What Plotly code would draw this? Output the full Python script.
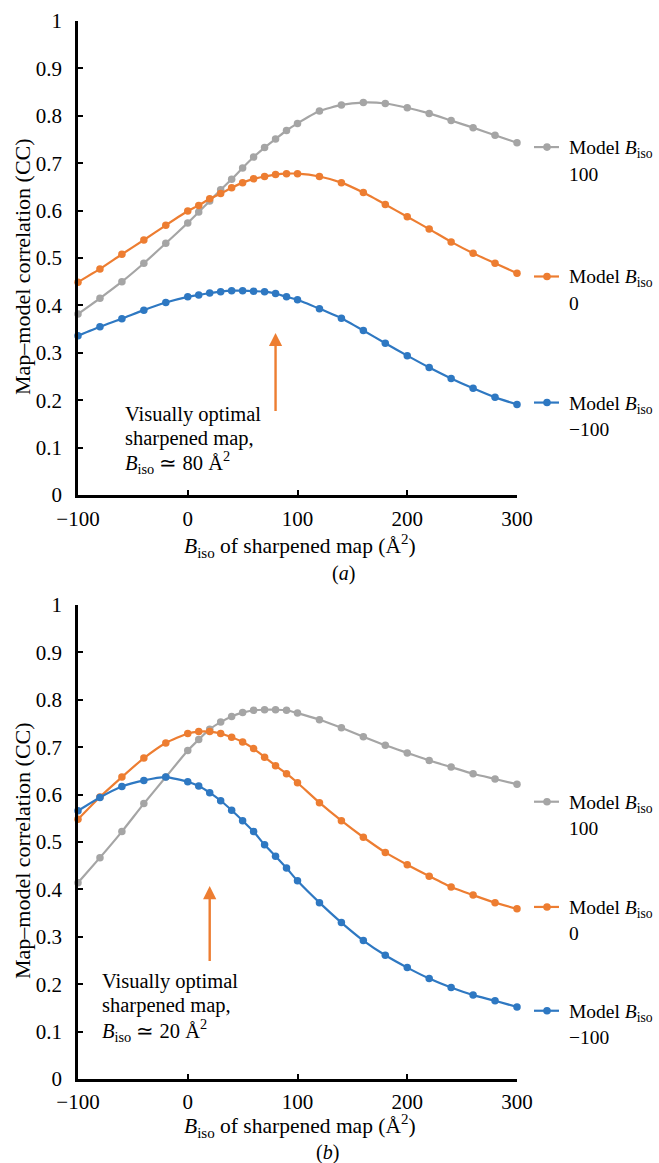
import plotly.graph_objects as go

# ---------------- data ----------------
b_sharp = [-100, -80, -60, -40, -20, 0, 10, 20, 30, 40, 50, 60, 70, 80, 90, 100,
           120, 140, 160, 180, 200, 220, 240, 260, 280, 300]

# panel (a)
cc_a_model100 = [0.382, 0.415, 0.450, 0.489, 0.531, 0.574, 0.597, 0.620, 0.644, 0.666, 0.690,
                 0.713, 0.733, 0.751, 0.769, 0.784, 0.810, 0.823, 0.828, 0.826, 0.817, 0.805,
                 0.790, 0.775, 0.759, 0.743]
cc_a_model0 = [0.449, 0.477, 0.508, 0.538, 0.569, 0.599, 0.611, 0.625, 0.636, 0.648, 0.659,
               0.667, 0.672, 0.676, 0.678, 0.678, 0.672, 0.659, 0.638, 0.613, 0.587, 0.561,
               0.534, 0.510, 0.489, 0.468]
cc_a_modelm100 = [0.336, 0.355, 0.372, 0.390, 0.406, 0.418, 0.422, 0.426, 0.429, 0.431, 0.431,
                  0.430, 0.429, 0.425, 0.418, 0.412, 0.393, 0.373, 0.347, 0.320, 0.294, 0.269,
                  0.246, 0.225, 0.206, 0.191]

# panel (b)
cc_b_model100 = [0.414, 0.467, 0.522, 0.581, 0.637, 0.693, 0.716, 0.738, 0.753, 0.765, 0.773,
                 0.778, 0.779, 0.779, 0.778, 0.772, 0.758, 0.741, 0.722, 0.704, 0.688, 0.672,
                 0.658, 0.644, 0.633, 0.622]
cc_b_model0 = [0.548, 0.595, 0.637, 0.677, 0.709, 0.729, 0.733, 0.733, 0.729, 0.721, 0.711,
               0.697, 0.679, 0.661, 0.644, 0.625, 0.583, 0.545, 0.510, 0.478, 0.452, 0.428,
               0.405, 0.388, 0.372, 0.359]
cc_b_modelm100 = [0.566, 0.594, 0.617, 0.630, 0.637, 0.627, 0.618, 0.604, 0.587, 0.567, 0.545,
                  0.522, 0.494, 0.470, 0.445, 0.418, 0.372, 0.330, 0.292, 0.261, 0.235, 0.212,
                  0.193, 0.177, 0.165, 0.152]

series_names = ["100", "0", "\u2212100"]
x_ticks = [-100, 0, 100, 200, 300]
y_ticks = [0, 0.1, 0.2, 0.3, 0.4, 0.5, 0.6, 0.7, 0.8, 0.9, 1]
optimal_b = [80, 20]          # visually optimal sharpening B for (a), (b)
panel_labels = ["(<i>a</i>)", "(<i>b</i>)"]

# ---------------- style ----------------
W, H = 659, 1163
FONT = "Liberation Serif"
colors = ["#A5A5A5", "#ED7D31", "#2E78C2"]
ORANGE = "#ED7D31"

L_PX, R_PX = 78, 517
dom_top = [(H - 495) / H, (H - 21) / H]
dom_bot = [(H - 1079) / H, (H - 605) / H]


def px(xp):
    """pixel column -> paper x (paper spans the plot area)"""
    return (xp - L_PX) / (R_PX - L_PX)


def py(yp):
    return (H - yp) / H


fig = go.Figure()

panels = [
    dict(xa="x", ya="y", data=[cc_a_model100, cc_a_model0, cc_a_modelm100],
         key_y=[0.734, 0.461, 0.195], note_x=-59, note_rows=[0.169, 0.119, 0.069],
         arrow=(0.174, 0.342), title_y=546, lab_y=573, lab_x=343, ytitle_y=267),
    dict(xa="x2", ya="y2", data=[cc_b_model100, cc_b_model0, cc_b_modelm100],
         key_y=[0.585, 0.363, 0.144], note_x=-80, note_rows=[0.205, 0.155, 0.103],
         arrow=(0.246, 0.407), title_y=1126, lab_y=1152, lab_x=327, ytitle_y=851),
]

annotations = []
shapes = []

for i, p in enumerate(panels):
    for s, ys in enumerate(p["data"]):
        fig.add_trace(go.Scatter(
            x=b_sharp, y=ys, xaxis=p["xa"], yaxis=p["ya"], mode="lines+markers",
            line=dict(color=colors[s], width=2.2, shape="spline", smoothing=0.5),
            marker=dict(color=colors[s], size=7.5),
            showlegend=False, cliponaxis=False))
        # legend key: line + marker
        ky = p["key_y"][s]
        shapes.append(dict(type="line", xref="paper", yref=p["ya"],
                           x0=px(534), x1=px(559), y0=ky, y1=ky,
                           line=dict(color=colors[s], width=2.2)))
        shapes.append(dict(type="circle", xref="paper", yref=p["ya"],
                           xsizemode="pixel", ysizemode="pixel",
                           xanchor=px(547), yanchor=ky,
                           x0=-3.8, x1=3.8, y0=-3.8, y1=3.8,
                           fillcolor=colors[s], line=dict(color=colors[s], width=0)))
        annotations.append(dict(
            xref="paper", yref=p["ya"], x=px(567), y=ky, xanchor="left", yanchor="middle",
            yshift=-2, showarrow=False, text="Model <i>B</i><sub>iso</sub>",
            font=dict(family=FONT, size=19.5, color="black")))
        annotations.append(dict(
            xref="paper", yref=p["ya"], x=px(567), y=ky, xanchor="left", yanchor="middle",
            yshift=-27, showarrow=False, text=series_names[s],
            font=dict(family=FONT, size=19.5, color="black")))

    # arrow
    tail, head = p["arrow"]
    annotations.append(dict(
        xref=p["xa"], yref=p["ya"], axref=p["xa"], ayref=p["ya"],
        x=optimal_b[i], y=head, ax=optimal_b[i], ay=tail, text="",
        showarrow=True, arrowhead=2, arrowsize=1.1, arrowwidth=2.4, arrowcolor=ORANGE))
    # note text (three rows)
    rows = ["Visually optimal", "sharpened map,",
            "<i>B</i><sub>iso</sub> \u2243 %d \u00c5<sup>2</sup>" % optimal_b[i]]
    for r, t in enumerate(rows):
        annotations.append(dict(
            xref=p["xa"], yref=p["ya"], x=p["note_x"], y=p["note_rows"][r], xanchor="left",
            yanchor="middle", showarrow=False, text=t,
            font=dict(family=FONT, size=20.5, color="black")))
    # x-axis title
    annotations.append(dict(
        xref="paper", yref="paper", x=px(300), y=py(p["title_y"]), xanchor="center",
        yanchor="middle", showarrow=False,
        text="<i>B</i><sub>iso</sub> of sharpened map (\u00c5<sup>2</sup>)",
        font=dict(family=FONT, size=21.5, color="black")))
    # panel label
    annotations.append(dict(
        xref="paper", yref="paper", x=px(p["lab_x"]), y=py(p["lab_y"]), xanchor="center",
        yanchor="middle", showarrow=False, text=panel_labels[i],
        font=dict(family=FONT, size=20, color="black")))
    # y-axis title
    annotations.append(dict(
        xref="paper", yref="paper", x=px(22), y=py(p["ytitle_y"]), xanchor="center",
        yanchor="middle", showarrow=False, textangle=-90,
        text="Map\u2013model correlation (CC)",
        font=dict(family=FONT, size=22, color="black")))

axis_common = dict(showgrid=False, zeroline=False, showline=True, linecolor="black",
                   linewidth=2.5, ticks="inside", ticklen=5, tickwidth=2, tickcolor="black",
                   automargin=False,
                   tickfont=dict(family=FONT, size=21, color="black"))

fig.update_layout(
    width=W, height=H, paper_bgcolor="white", plot_bgcolor="white",
    margin=dict(l=L_PX, r=W - R_PX, t=0, b=0, pad=0, autoexpand=False),
    xaxis=dict(domain=[0, 1], range=[-100, 300], tickvals=x_ticks, anchor="y",
               ticklabelstandoff=3, **axis_common),
    yaxis=dict(domain=dom_top, range=[0, 1], tickvals=y_ticks, anchor="x",
               ticklabelstandoff=9, **axis_common),
    xaxis2=dict(domain=[0, 1], range=[-100, 300], tickvals=x_ticks, anchor="y2",
                ticklabelstandoff=2, **axis_common),
    yaxis2=dict(domain=dom_bot, range=[0, 1], tickvals=y_ticks, anchor="x2",
                ticklabelstandoff=9, **axis_common),
    annotations=annotations, shapes=shapes,
    font=dict(family=FONT, color="black"),
)

fig.write_html("out.html", config={"displayModeBar": False},
               post_script="document.body.style.margin='0';document.body.style.overflow='hidden';")
